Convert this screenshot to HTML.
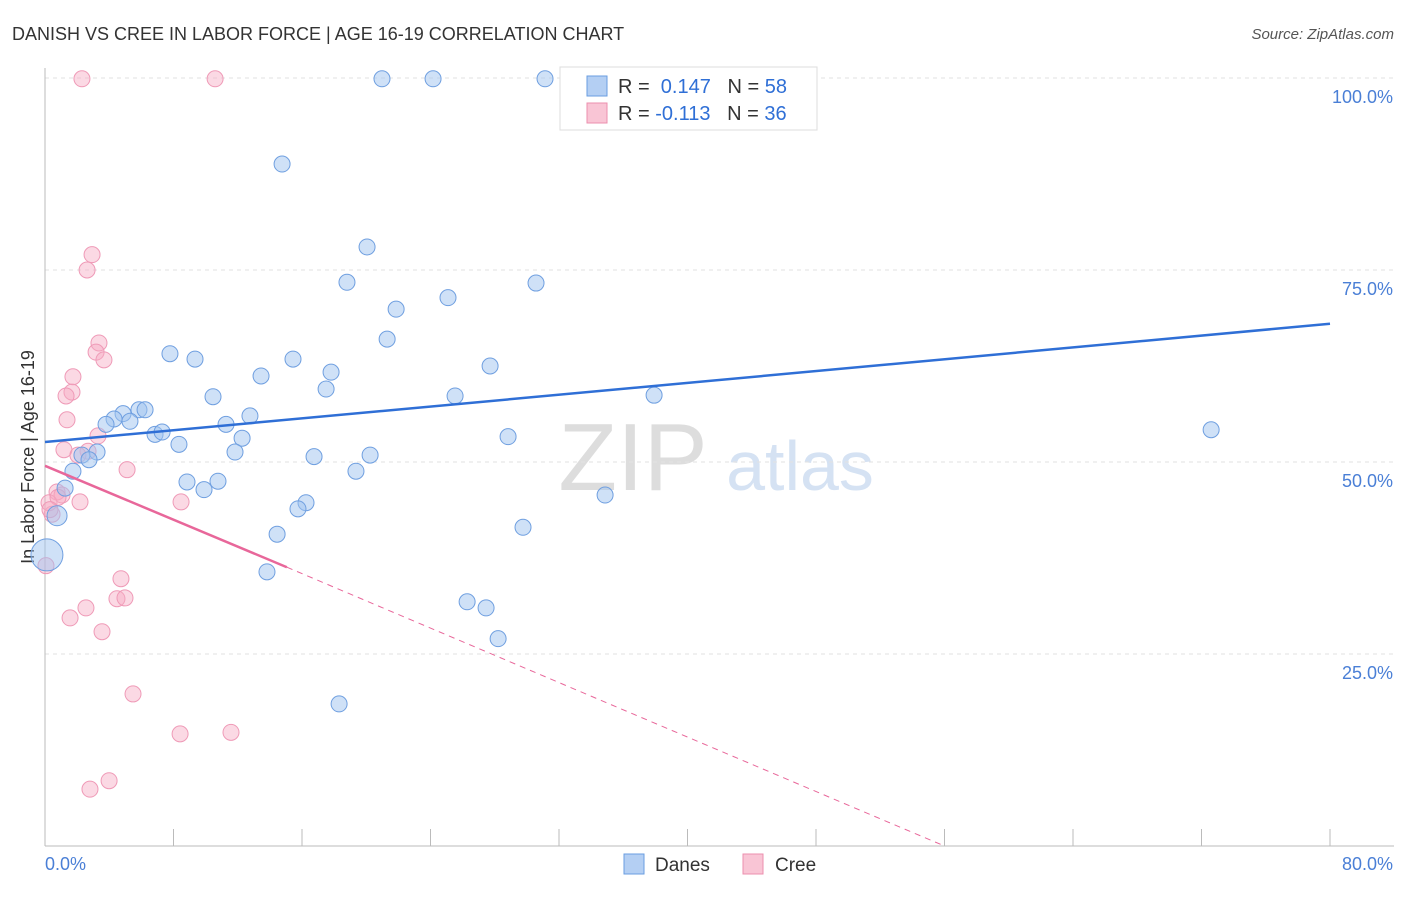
<!DOCTYPE html>
<html><head><meta charset="utf-8"><style>
body{margin:0;background:#fff;font-family:"Liberation Sans",sans-serif;}
svg text{font-family:"Liberation Sans",sans-serif;}
</style></head><body>
<svg id="chart" width="1406" height="892">
<text x="12" y="40" font-size="18" fill="#333">DANISH VS CREE IN LABOR FORCE | AGE 16-19 CORRELATION CHART</text>
<text x="1394" y="39" font-size="15" fill="#555" font-style="italic" text-anchor="end">Source: ZipAtlas.com</text>
<text x="633" y="490" font-size="96" fill="#ddd" font-family="Liberation Serif" text-anchor="middle">ZIP</text>
<text x="800" y="490" font-size="70" fill="#d5e2f3" text-anchor="middle">atlas</text>
<text transform="translate(34,457) rotate(-90)" font-size="18" fill="#333" text-anchor="middle">In Labor Force | Age 16-19</text>
<g id="grid"></g><g id="marks"></g><g id="lines"></g>
<g>
<rect x="560" y="67" width="257" height="63" fill="#fff" stroke="#ddd"/>
<rect x="587" y="76" width="20" height="20" fill="#b4cff3" stroke="#6a9ee0"/>
<text x="618" y="93" font-size="20" fill="#333">R = <tspan fill="#2f6fd6">&#160;0.147</tspan>&#160;&#160;&#160;N = <tspan fill="#2f6fd6">58</tspan></text>
<rect x="587" y="103" width="20" height="20" fill="#f9c5d5" stroke="#ec8fae"/>
<text x="618" y="120" font-size="20" fill="#333">R = <tspan fill="#2f6fd6">-0.113</tspan>&#160;&#160;&#160;N = <tspan fill="#2f6fd6">36</tspan></text>
</g>
<g>
<rect x="624" y="854" width="20" height="20" fill="#b4cff3" stroke="#6a9ee0"/>
<text x="655" y="871" font-size="19" fill="#333">Danes</text>
<rect x="743" y="854" width="20" height="20" fill="#f9c5d5" stroke="#ec8fae"/>
<text x="775" y="871" font-size="19" fill="#333">Cree</text>
</g>
</svg>
<script>
const xTicks=[0,8,16,24,32,40,48,56,64,72,80];
const yTicks=[25,50,75,100];
const yTickLabels=["25.0%","50.0%","75.0%","100.0%"];
const danesX=[20.98,24.16,31.13,14.76,20.05,18.80,30.57,25.09,21.86,21.30,7.78,9.34,15.44,27.71,17.81,13.45,17.50,10.46,25.53,37.92,5.85,6.23,4.86,4.30,3.80,5.29,12.76,11.27,6.85,7.29,28.83,72.60,12.27,8.34,11.83,20.24,16.75,3.24,2.30,2.74,1.74,19.36,8.84,10.77,9.90,1.25,34.87,16.25,15.75,0.75,29.76,14.45,0.12,13.82,26.28,27.46,28.21,18.31];
const danesY=[99.9,99.9,99.9,88.8,78.0,73.4,73.3,71.4,69.9,66.0,64.1,63.4,63.4,62.5,61.7,61.2,59.5,58.5,58.6,58.7,56.8,56.8,56.3,55.6,54.9,55.3,56.0,54.9,53.6,53.9,53.3,54.2,53.1,52.3,51.3,50.9,50.7,51.3,50.9,50.3,48.8,48.8,47.4,47.5,46.4,46.6,45.7,44.7,43.9,43.0,41.5,40.6,37.9,35.7,31.8,31.0,27.0,18.5];
const danesR=danesX.map((v,i)=>i===52?16:(i===49?10:8));
const creeX=[2.30,10.59,2.93,2.62,3.36,3.18,3.67,1.74,1.68,1.31,1.37,3.30,1.18,2.68,2.05,5.11,0.75,1.06,2.18,8.47,0.44,0.25,0.06,4.73,4.48,4.98,2.55,1.56,3.55,5.48,8.41,11.58,3.99,2.80,0.81,0.31];
const creeY=[99.9,99.9,77.0,75.0,65.5,64.3,63.3,61.1,59.1,58.6,55.5,53.4,51.6,51.4,50.9,49.0,46.1,45.7,44.8,44.8,43.2,44.7,36.5,34.8,32.2,32.3,31.0,29.7,27.9,19.8,14.6,14.8,8.5,7.4,45.4,43.8];
const danesTrend=[[0,52.6],[80,68.0]];
const creeTrendSolid=[[0,49.5],[15.06,36.3]];
const creeTrendEnd=[56,0];
const X=v=>45+v*(1285/80), Y=v=>846-v*7.68;
const NS="http://www.w3.org/2000/svg";
function mk(t,a,p){const e=document.createElementNS(NS,t);for(const k in a)e.setAttribute(k,a[k]);p.appendChild(e);return e;}
const grid=document.getElementById('grid'),marks=document.getElementById('marks'),lines=document.getElementById('lines');
yTicks.forEach((t,i)=>{
 const l=mk('line',{x1:45,x2:1394,y1:Y(t),y2:Y(t),stroke:'#e2e2e2','stroke-dasharray':'4,4'},grid);
 
 
 const tx=mk('text',{x:1393,y:Y(t)+25,'font-size':18,fill:'#4a7fd6','text-anchor':'end'},grid);
 tx.textContent=yTickLabels[i];
 
 
});
const ax=mk('line',{x1:45,x2:45,y1:68,y2:846,stroke:'#bbb'},grid);


const bx=mk('line',{x1:45,x2:1394,y1:846,y2:846,stroke:'#bbb'},grid);


xTicks.forEach(t=>{
 const l=mk('line',{x1:X(t),x2:X(t),y1:829,y2:846,stroke:'#bbb'},grid);
 
 
});
const xl0=mk('text',{x:45,y:870,'font-size':18,fill:'#4a7fd6'},grid);xl0.textContent=xTicks[0].toFixed(1)+'%';


const xl1=mk('text',{x:1393,y:870,'font-size':18,fill:'#4a7fd6','text-anchor':'end'},grid);xl1.textContent=xTicks[xTicks.length-1].toFixed(1)+'%';


creeX.forEach((v,i)=>{
 const c=mk('circle',{cx:X(v),cy:Y(creeY[i]),r:8,fill:'rgba(246,170,196,0.45)',stroke:'#ef9ab7','stroke-width':1},marks);
 
 
});
danesX.forEach((v,i)=>{
 const c=mk('circle',{cx:X(v),cy:Y(danesY[i]),r:danesR[i],fill:'rgba(160,195,240,0.5)',stroke:'#6f9fe0','stroke-width':1},marks);
 
 
});
const dl=mk('line',{x1:X(danesTrend[0][0]),y1:Y(danesTrend[0][1]),x2:X(danesTrend[1][0]),y2:Y(danesTrend[1][1]),stroke:'#2f6fd6','stroke-width':2.5},lines);


const cl=mk('line',{x1:X(creeTrendSolid[0][0]),y1:Y(creeTrendSolid[0][1]),x2:X(creeTrendSolid[1][0]),y2:Y(creeTrendSolid[1][1]),stroke:'#e8679a','stroke-width':2.5},lines);


const cd=mk('line',{x1:X(creeTrendSolid[1][0]),y1:Y(creeTrendSolid[1][1]),x2:X(creeTrendEnd[0]),y2:Y(creeTrendEnd[1]),stroke:'#e8679a','stroke-width':1,'stroke-dasharray':'6,5'},lines);


</script>
</body></html>
